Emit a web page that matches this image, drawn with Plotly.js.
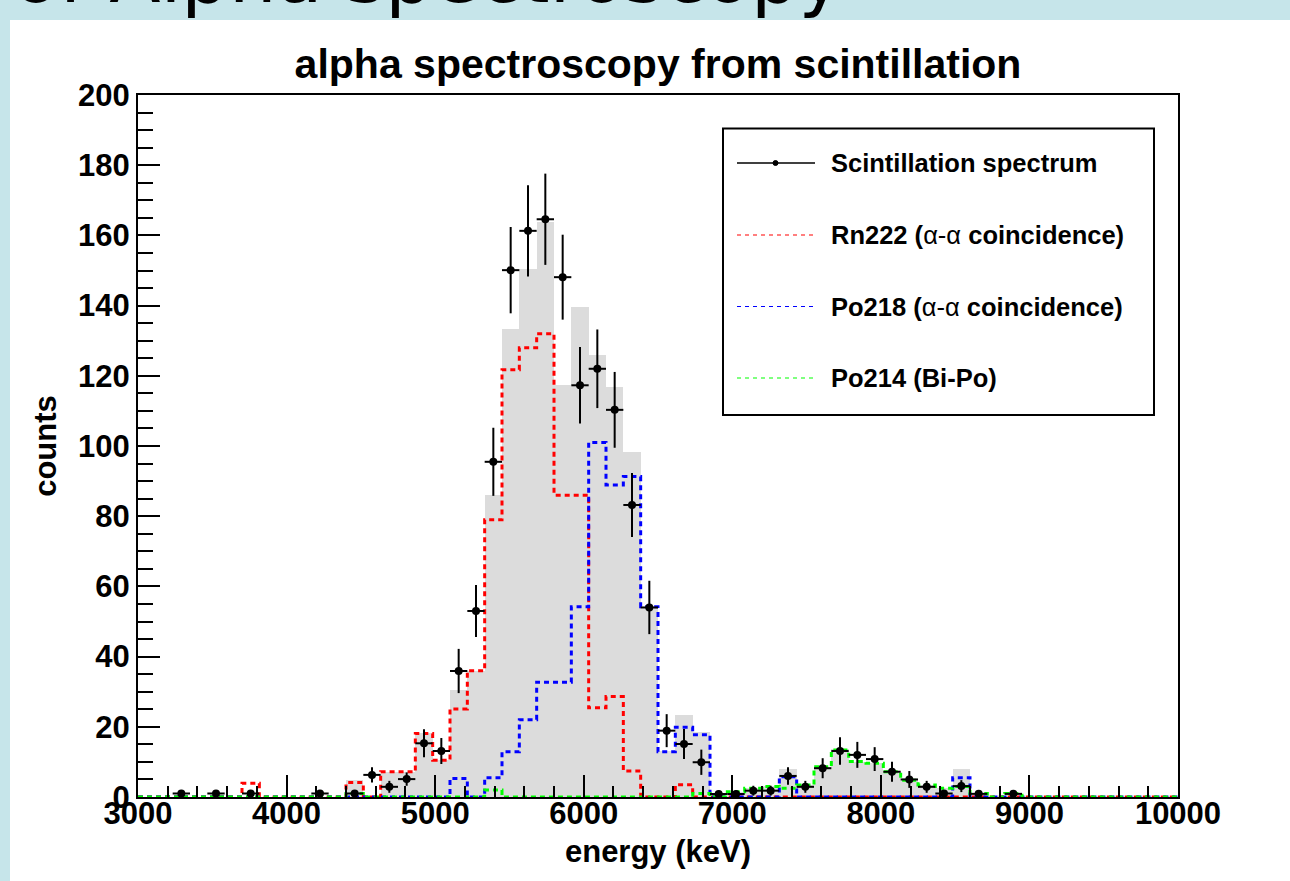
<!DOCTYPE html>
<html>
<head>
<meta charset="utf-8">
<script src="https://cdn.plot.ly/plotly-3.0.1.min.js"></script>
<style>html,body{margin:0;padding:0;background:#c6e5ea;}#chart{width:1290px;height:881px;}</style>
</head>
<body>
<div id="chart"></div>
<script>
// ---- binning ----
const xMin = 3000, xMax = 10000, nBins = 60;
const binWidth = (xMax - xMin) / nBins;

// ---- data (counts per bin, bins 0..59) ----
const scintCounts = [
  null,null,1,null,1,null,1,null,null,null,
  1,null,1,6.3,2.9,5.1,15.3,13.1,35.9,53,
  95.5,150.1,161.3,164.6,148.1,117.3,122,110.3,83.2,54,
  18.9,15.1,9.9,0.85,0.85,1.8,1.8,6,2.9,8.2,
  13.1,12,10.8,7.2,5,2.9,1,3.1,0.9,null,
  0.9,null,null,null,null,null,null,null,null,null
];
const scintErrors = [
  null,null,1,null,1,null,1,null,null,null,
  1,null,1,2.2,1.7,1.9,4,3.7,6.3,7.4,
  9.7,12.3,13,13,12.1,10.9,11.2,10.8,9.1,7.6,
  4.7,4.3,3.6,1,1,1.4,1.4,2.5,1.7,2.85,
  3.9,3.7,3.4,2.85,2.4,1.7,1,1.7,1,null,
  1,null,null,null,null,null,null,null,null,null
];
const totalCounts = [
  0,0,0,0,0,0,0,0,0,0,
  0,0,4.8,0,7.2,7.2,18.1,10.5,30.4,36,
  86,133.3,150.4,163.7,117.4,139.7,125.9,116.9,98.4,54.2,
  13,23.4,18.6,0,1.5,2.5,3,8,3.4,8.6,
  13.6,10.1,9.6,7.2,4.8,3.4,2.5,8,1,0,
  1,0,0,0,0,0,0,0,0,0
];
const rn222Counts = [
  0,0,0,0,0,0,3.9,0,0,0,
  0,0,4.1,0,7.2,7.2,18.1,10.5,25.1,36,
  79,121.7,128,132,86,86,25.4,28.6,7.4,0,
  0,3.5,0,0,0,0,0,0,0,0,
  0,0,0,0,0,0,0,0,0,0,
  0,0,0,0,0,0,0,0,0,0
];
const po218Counts = [
  0,0,0,0,0,0,0,0,0,0,
  0,0,0,0,0,0,0,0,5.3,0,
  5.5,12.9,22,32.7,32.7,54.2,101,88.9,91.3,54.2,
  12.9,19.9,17.7,0,0,0,0,5.8,0,0,
  0,0,0,0,0,0,0,5.5,0,0,
  0,0,0,0,0,0,0,0,0,0
];
const po214Counts = [
  0,0,0,0,0,0,0,0,0,0,
  0,0,1,0,0,0,0,0,0,0,
  2,0,0,0,0,0,0,0,0,0,
  0,0,1,0,1.5,2.5,3,2.5,3.4,8.6,
  13.4,10.1,9.6,7.2,4.8,3.4,2.5,3,1,0,
  1,0,0,0,0,0,0,0,0,0
];

const titleText = 'alpha spectroscopy from scintillation';
const xTitle = 'energy (keV)';
const yTitle = 'counts';
const legendNames = [
  'Scintillation spectrum',
  'Rn222 (</b>α-α<b> coincidence)',
  'Po218 (</b>α-α<b> coincidence)',
  'Po214 (Bi-Po)'
];
const slideTitle = 'of Alpha spectroscopy';

// ---- derived positions ----
const centers = scintCounts.map((_, i) => xMin + (i + 0.5) * binWidth);
const edges = rn222Counts.map((_, i) => xMin + i * binWidth).concat([xMax]);
const stepY = arr => arr.concat([arr[arr.length - 1]]);

const FONT = 'Liberation Sans, Arial, Helvetica, sans-serif';
const dashStyle = '5px,4px';

function stepTrace(vals, color) {
  return {
    type: 'scatter', mode: 'lines', x: edges, y: stepY(vals),
    line: {shape: 'hv', color: color, width: 3, dash: dashStyle},
    hoverinfo: 'skip', showlegend: false
  };
}

const traces = [
  {
    type: 'bar', x: centers, y: totalCounts, width: binWidth,
    marker: {color: '#dcdcdc', line: {width: 0}}, showlegend: false, hoverinfo: 'skip'
  },
  stepTrace(rn222Counts, '#ff0000'),
  stepTrace(po218Counts, '#0000ff'),
  stepTrace(po214Counts, '#00ff00'),
  {
    type: 'scatter', mode: 'markers', x: centers, y: scintCounts,
    marker: {color: 'black', size: 8},
    error_y: {type: 'data', array: scintErrors, visible: true, color: 'black', thickness: 2, width: 0},
    error_x: {type: 'constant', value: binWidth / 2, visible: true, color: 'black', thickness: 2, width: 0},
    showlegend: false
  }
];

// ---- manual ROOT-style legend (paper coords from pixel layout) ----
const M = {l: 138, r: 112, t: 95, b: 84};
const W = 1290, H = 881;
const pw = W - M.l - M.r, ph = H - M.t - M.b;
const px = p => (p - M.l) / pw;
const py = p => (H - M.b - p) / ph;

const legRowsY = [163, 235, 306.5, 378];
const legColors = ['black', '#ff0000', '#0000ff', '#00ff00'];
const shapes = [
  // slide white area
  {type: 'rect', xref: 'paper', yref: 'paper', x0: px(10), x1: px(1300), y0: py(900), y1: py(20),
   fillcolor: 'white', line: {width: 0}, layer: 'below'},
  // legend box
  {type: 'rect', xref: 'paper', yref: 'paper', x0: px(723), x1: px(1154), y0: py(415), y1: py(128.5),
   fillcolor: 'white', line: {color: 'black', width: 2}, layer: 'above'}
];
legRowsY.forEach((yy, k) => {
  shapes.push({
    type: 'line', xref: 'paper', yref: 'paper', x0: px(737), x1: px(815), y0: py(yy), y1: py(yy),
    line: {color: legColors[k], width: k === 0 ? 1.5 : 1.2, dash: k === 0 ? 'solid' : '4px,4px'}, layer: 'above'
  });
});
shapes.push({type: 'circle', xref: 'paper', yref: 'paper', x0: px(773), x1: px(778), y0: py(165.5), y1: py(160.5),
  fillcolor: 'black', line: {color: 'black', width: 1}, layer: 'above'});

const annotations = legRowsY.map((yy, k) => ({
  xref: 'paper', yref: 'paper', x: px(829), y: py(yy), xanchor: 'left', yanchor: 'middle',
  text: '<b>' + legendNames[k] + '</b>', showarrow: false,
  font: {family: FONT, size: 25.5, color: 'black'}
}));
annotations.push({
  xref: 'paper', yref: 'paper', x: px(845), y: py(22), xanchor: 'right', yanchor: 'bottom',
  text: slideTitle, showarrow: false, font: {family: 'DejaVu Sans, sans-serif', size: 75, color: 'black'}
});

const axisCommon = {
  ticks: 'inside', ticklen: 22, tickwidth: 2, tickcolor: 'black',
  showline: true, linewidth: 2, linecolor: 'black', mirror: true,
  showgrid: false, zeroline: false, tickformat: 'd',
  tickfont: {family: FONT, size: 31, color: 'black', weight: 'bold'}
};

const layout = {
  width: W, height: H,
  margin: {l: M.l, r: M.r, t: M.t, b: M.b, pad: 0, autoexpand: false},
  paper_bgcolor: '#c6e5ea', plot_bgcolor: 'white',
  bargap: 0, showlegend: false,
  title: {text: titleText, x: 0.5, xref: 'paper', xanchor: 'center', y: 1 - 64 / H, yref: 'container', yanchor: 'middle',
    font: {family: FONT, size: 41, color: 'black', weight: 'bold'}},
  xaxis: Object.assign({}, axisCommon, {
    range: [xMin, xMax], tick0: xMin, dtick: 1000, ticklabelstandoff: -12,
    minor: {dtick: 200, ticks: 'inside', ticklen: 11, tickwidth: 2, tickcolor: 'black', showgrid: false},
    title: {text: xTitle, standoff: 10, font: {family: FONT, size: 31, color: 'black', weight: 'bold'}}
  }),
  yaxis: Object.assign({}, axisCommon, {
    range: [0, 200], tick0: 0, dtick: 20,
    minor: {dtick: 5, ticks: 'inside', ticklen: 15, tickwidth: 2, tickcolor: 'black', showgrid: false},
    title: {text: yTitle, standoff: 12, font: {family: FONT, size: 31, color: 'black', weight: 'bold'}}
  }),
  shapes: shapes,
  annotations: annotations
};

Plotly.newPlot('chart', traces, layout, {staticPlot: true, displayModeBar: false});
</script>
</body>
</html>
